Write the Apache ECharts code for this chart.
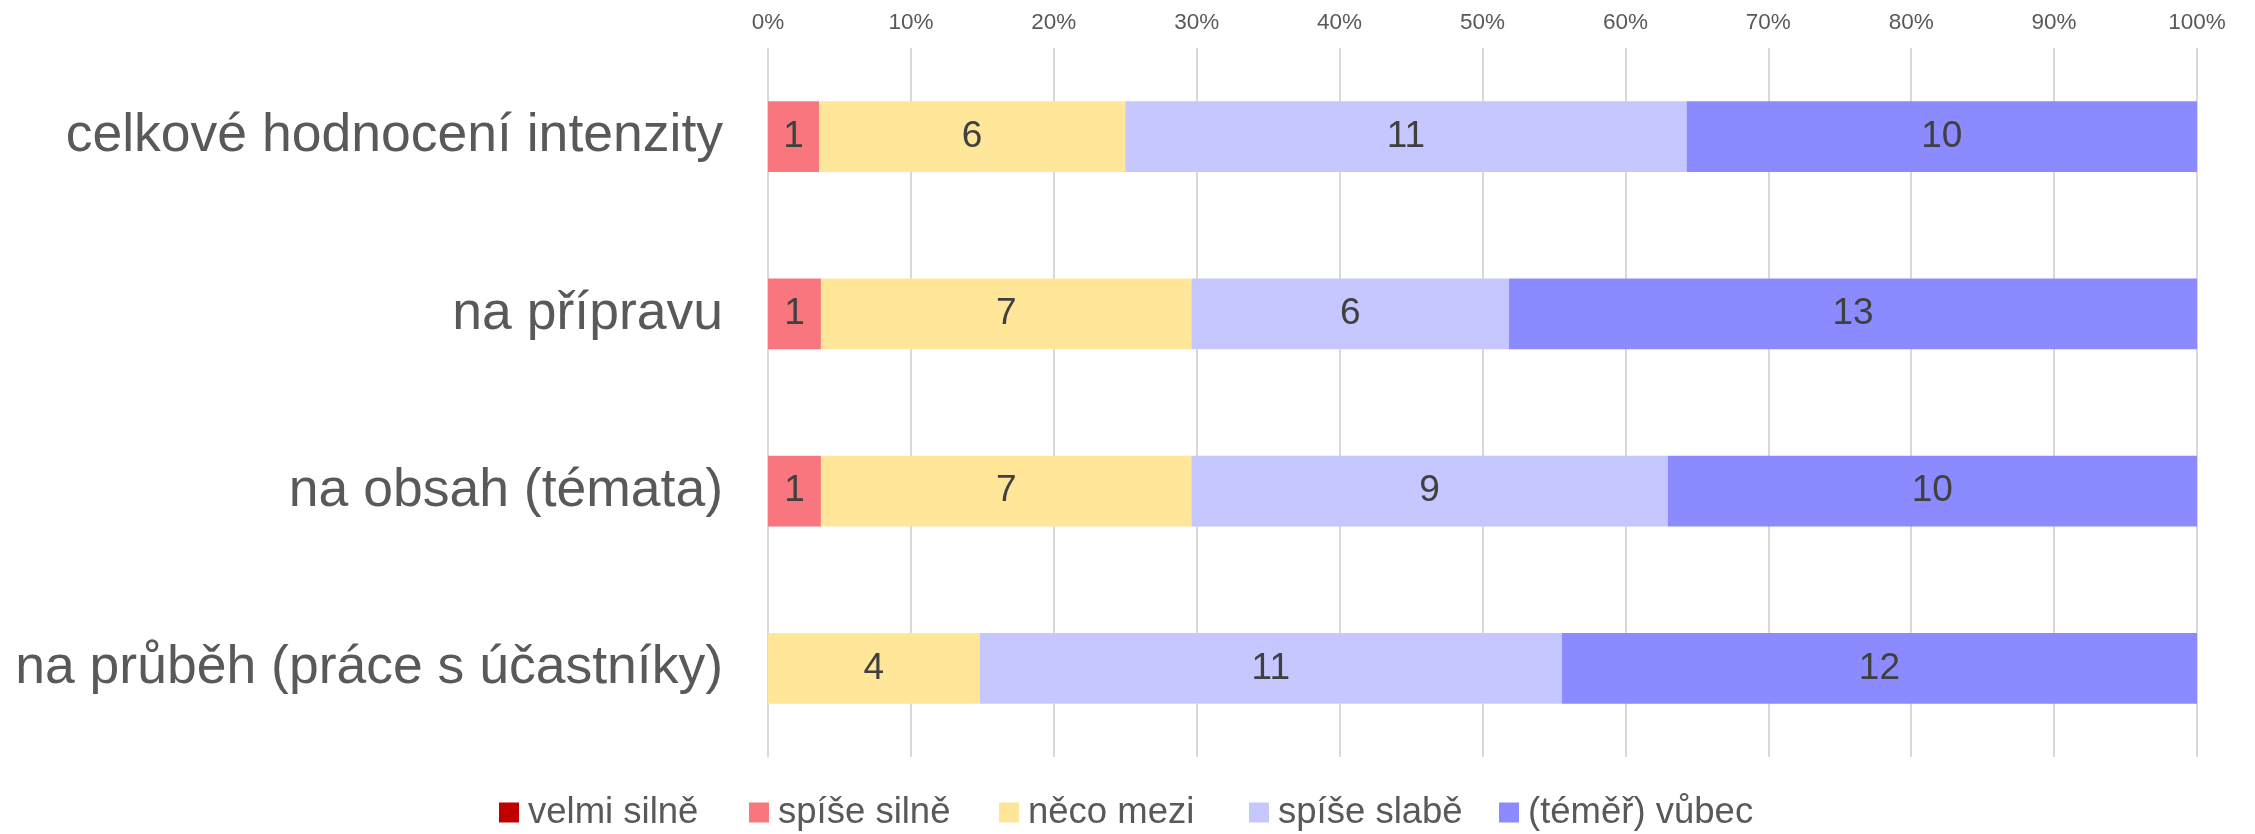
<!DOCTYPE html>
<html>
<head>
<meta charset="utf-8">
<script src="https://cdn.jsdelivr.net/npm/echarts@6/dist/echarts.min.js"></script>
<style>
  html, body { margin: 0; padding: 0; background: #fff; }
  #chart { width: 2255px; height: 834px; }
</style>
</head>
<body>
<div id="chart"></div>
<script>
// kategorie (shora dolů)
const categories = ['celkové hodnocení intenzity', 'na přípravu', 'na obsah (témata)', 'na průběh (práce s účastníky)']
const seriesNames = ['velmi silně', 'spíše silně', 'něco mezi', 'spíše slabě', '(téměř) vůbec']
// počty odpovědí
const velmiSilne = [0, 0, 0, 0]
const spiseSilne = [1, 1, 1, 0]
const necoMezi = [6, 7, 7, 4]
const spiseSlabe = [11, 6, 9, 11]
const vubec = [10, 13, 10, 12]
const tickLabels = ['0%', '10%', '20%', '30%', '40%', '50%', '60%', '70%', '80%', '90%', '100%']

const colors = ['#C00000', '#F8777F', '#FFE699', '#C7C7FF', '#8B8BFF']
const counts = [velmiSilne, spiseSilne, necoMezi, spiseSlabe, vubec]
const totals = categories.map((c, i) => counts.reduce((s, arr) => s + arr[i], 0))
const fontFamily = '"Liberation Sans", Arial, sans-serif'

let myChart = echarts.init(document.getElementById('chart'))
let option = {
  animation: false,
  textStyle: { fontFamily: fontFamily },
  grid: {
    left: 768, right: 58, top: 48, bottom: 77,
    containLabel: false,
    outerBoundsMode: 'none'
  },
  // Excel dává položkám legendy stejně široká místa -> jedna legenda na položku
  legend: seriesNames.map((name, k) => ({
    top: 794,
    left: 499 + 250 * k,
    padding: 0,
    icon: 'rect',
    itemWidth: 20,
    itemHeight: 20,
    textStyle: { fontSize: 36.5, color: '#595959', fontFamily: fontFamily, padding: [0, 0, 0, 4] },
    data: [name]
  })),
  xAxis: {
    type: 'value',
    position: 'top',
    min: 0,
    max: 100,
    interval: 10,
    axisLine: { show: false },
    axisTick: { show: false },
    axisLabel: {
      margin: 14,
      fontSize: 22.5,
      color: '#595959',
      formatter: (v) => tickLabels[Math.round(v / 10)]
    },
    splitLine: { lineStyle: { color: '#D9D9D9', width: 2 } }
  },
  yAxis: {
    type: 'category',
    inverse: true,
    data: categories,
    axisLine: { show: false },
    axisTick: { show: false },
    axisLabel: { margin: 45, fontSize: 53.5, color: '#595959' }
  },
  series: seriesNames.map((name, k) => ({
    name: name,
    type: 'bar',
    stack: 'total',
    barWidth: '40%',
    itemStyle: { color: colors[k] },
    label: {
      show: true,
      position: 'inside',
      fontSize: 37,
      color: '#404040',
      formatter: (p) => counts[k][p.dataIndex] > 0 ? String(counts[k][p.dataIndex]) : ''
    },
    data: counts[k].map((v, i) => v / totals[i] * 100)
  }))
}
myChart.setOption(option)
</script>
</body>
</html>
